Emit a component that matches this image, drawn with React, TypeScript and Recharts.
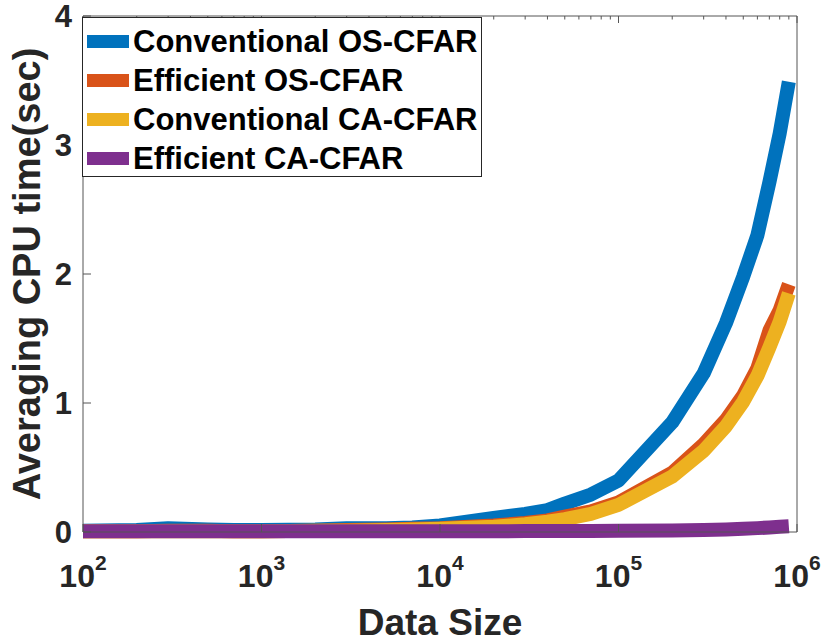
import React from 'react';
import { LineChart, Line, XAxis, YAxis, Legend } from 'recharts';

// data size (x) and averaged CPU time (sec) per algorithm
const dataSize = [100, 200, 300, 500, 700, 1000, 2000, 3000, 5000, 7000, 10000, 20000, 30000, 40000, 50000, 70000, 100000, 200000, 300000, 400000, 500000, 600000, 700000, 800000, 900000];
const convOS = [0.01, 0.015, 0.03, 0.02, 0.015, 0.015, 0.02, 0.03, 0.03, 0.035, 0.05, 0.11, 0.14, 0.17, 0.22, 0.29, 0.4, 0.85, 1.23, 1.62, 1.98, 2.3, 2.71, 3.09, 3.49];
const effOS = [0.005, 0.005, 0.01, 0.01, 0.005, 0.005, 0.01, 0.015, 0.02, 0.025, 0.03, 0.05, 0.07, 0.09, 0.12, 0.16, 0.23, 0.46, 0.68, 0.87, 1.06, 1.27, 1.56, 1.72, 1.92];
const convCA = [0.005, 0.005, 0.005, 0.005, 0.005, 0.005, 0.01, 0.01, 0.015, 0.02, 0.025, 0.04, 0.06, 0.08, 0.1, 0.14, 0.21, 0.43, 0.63, 0.82, 1.01, 1.21, 1.43, 1.63, 1.85];
const effCA = [0.005, 0.005, 0.005, 0.005, 0.005, 0.005, 0.005, 0.005, 0.005, 0.005, 0.006, 0.006, 0.007, 0.007, 0.008, 0.008, 0.009, 0.012, 0.016, 0.02, 0.025, 0.03, 0.035, 0.04, 0.045];

const seriesNames = ['Conventional OS-CFAR', 'Efficient OS-CFAR', 'Conventional CA-CFAR', 'Efficient CA-CFAR'];
const yTicks = [0, 1, 2, 3, 4];
const xExponents = [2, 3, 4, 5, 6];
const minorMultipliers = [2, 3, 4, 5, 6, 7, 8, 9];

const data = dataSize.map((n, i) => ({
  n,
  convOS: convOS[i],
  effOS: effOS[i],
  convCA: convCA[i],
  effCA: effCA[i],
}));

const majorTicks = xExponents.map((e) => 10 ** e);
const minorTicks = xExponents.slice(0, -1).flatMap((e) => minorMultipliers.map((m) => m * 10 ** e));

const FONT = '"Liberation Sans", Arial, Helvetica, sans-serif';
const AXIS = '#555';
const TEXT = '#262626';

const LeftTick = (props: any) => {
  const { x, y, payload } = props;
  return (
    <g>
      <line x1={x} x2={x + 8} y1={y} y2={y} stroke={AXIS} />
      <text x={x - 11} y={y} textAnchor="end" dominantBaseline="central" fontFamily={FONT} fontWeight="bold" fontSize={31} fill={TEXT}>
        {payload.value}
      </text>
    </g>
  );
};

const RightTick = (props: any) => {
  const { x, y } = props;
  return <line x1={x - 8} x2={x} y1={y} y2={y} stroke={AXIS} />;
};

const BottomTick = (props: any) => {
  const { x, y, payload } = props;
  const exp = Math.round(Math.log10(payload.value));
  return (
    <g>
      <line x1={x} x2={x} y1={y} y2={y - 8} stroke={AXIS} />
      <text x={x} y={y + 55} textAnchor="middle" fontFamily={FONT} fontWeight="bold" fontSize={32} fill={TEXT}>
        10<tspan dy={-17} fontSize={21}>{exp}</tspan>
      </text>
    </g>
  );
};

const TopTick = (props: any) => {
  const { x, y, payload } = props;
  const len = majorTicks.includes(payload.value) ? 7 : 3.5;
  return <line x1={x} x2={x} y1={y} y2={y + len} stroke={AXIS} />;
};

const YTitle = (props: any) => {
  const { viewBox } = props;
  const cx = viewBox.x + 40;
  const cy = viewBox.y + viewBox.height / 2;
  return (
    <text x={cx} y={cy} transform={`rotate(-90 ${cx} ${cy})`} textAnchor="middle" fontFamily={FONT} fontWeight="bold" fontSize={38} fill={TEXT}>
      Averaging CPU time(sec)
    </text>
  );
};

const XTitle = (props: any) => {
  const { viewBox } = props;
  return (
    <text x={viewBox.x + viewBox.width / 2} y={viewBox.y + 103} textAnchor="middle" fontFamily={FONT} fontWeight="bold" fontSize={37} fill={TEXT}>
      Data Size
    </text>
  );
};

const LegendBox = (props: any) => {
  const items = [...(props.payload || [])].sort(
    (a: any, b: any) => seriesNames.indexOf(a.value) - seriesNames.indexOf(b.value)
  );
  return (
    <div
      style={{
        border: '1px solid #262626',
        background: '#fff',
        padding: '4px 0 0 4px',
        boxSizing: 'border-box',
        width: 400,
        height: 160,
      }}
    >
      {items.map((p: any) => (
        <div key={p.value} style={{ display: 'flex', alignItems: 'center', height: 39 }}>
          <span style={{ display: 'inline-block', width: 42, height: 13, background: p.color, marginRight: 4 }} />
          <span style={{ fontFamily: FONT, fontWeight: 'bold', fontSize: 31, color: '#000', lineHeight: '39px', whiteSpace: 'nowrap' }}>
            {p.value}
          </span>
        </div>
      ))}
    </div>
  );
};

const App = () => {
  return (
    <div style={{ position: 'absolute', left: 0, top: 0, background: '#fff' }}>
      <LineChart width={827} height={643} data={data} margin={{ top: 0, right: 0, bottom: 0, left: 0 }}>
        <XAxis
          xAxisId="bottom"
          dataKey="n"
          type="number"
          scale="log"
          domain={[100, 1000000]}
          ticks={majorTicks}
          interval={0}
          tick={<BottomTick />}
          tickLine={false}
          tickSize={0}
          tickMargin={0}
          height={111}
          axisLine={{ stroke: AXIS }}
          label={<XTitle />}
        />
        <XAxis
          xAxisId="top"
          orientation="top"
          dataKey="n"
          type="number"
          scale="log"
          domain={[100, 1000000]}
          ticks={[...minorTicks, ...majorTicks]}
          interval={0}
          tick={<TopTick />}
          tickLine={false}
          tickSize={0}
          tickMargin={0}
          height={16}
          axisLine={{ stroke: AXIS }}
        />
        <YAxis
          yAxisId="left"
          type="number"
          domain={[0, 4]}
          ticks={yTicks}
          interval={0}
          tick={<LeftTick />}
          tickLine={false}
          tickSize={0}
          tickMargin={0}
          width={83}
          axisLine={{ stroke: AXIS }}
          label={<YTitle />}
        />
        <YAxis
          yAxisId="right"
          orientation="right"
          type="number"
          domain={[0, 4]}
          ticks={yTicks}
          interval={0}
          tick={<RightTick />}
          tickLine={false}
          tickSize={0}
          tickMargin={0}
          width={30}
          axisLine={{ stroke: AXIS }}
        />
        <Line xAxisId="bottom" yAxisId="left" type="linear" dataKey="convOS" name={seriesNames[0]} stroke="#0072BD" strokeWidth={14} strokeLinejoin="round" dot={false} activeDot={false} isAnimationActive={false} />
        <Line xAxisId="bottom" yAxisId="left" type="linear" dataKey="effOS" name={seriesNames[1]} stroke="#D95319" strokeWidth={14} strokeLinejoin="round" dot={false} activeDot={false} isAnimationActive={false} />
        <Line xAxisId="bottom" yAxisId="left" type="linear" dataKey="convCA" name={seriesNames[2]} stroke="#EDB120" strokeWidth={14} strokeLinejoin="round" dot={false} activeDot={false} isAnimationActive={false} />
        <Line xAxisId="bottom" yAxisId="left" type="linear" dataKey="effCA" name={seriesNames[3]} stroke="#7E2F8E" strokeWidth={14} strokeLinejoin="round" dot={false} activeDot={false} isAnimationActive={false} />
        <Legend
          layout="vertical"
          align="center"
          verticalAlign="middle"
          content={<LegendBox />}
          wrapperStyle={{ left: 82, top: 17, width: 400, height: 160 }}
        />
      </LineChart>
    </div>
  );
};

export default App;
